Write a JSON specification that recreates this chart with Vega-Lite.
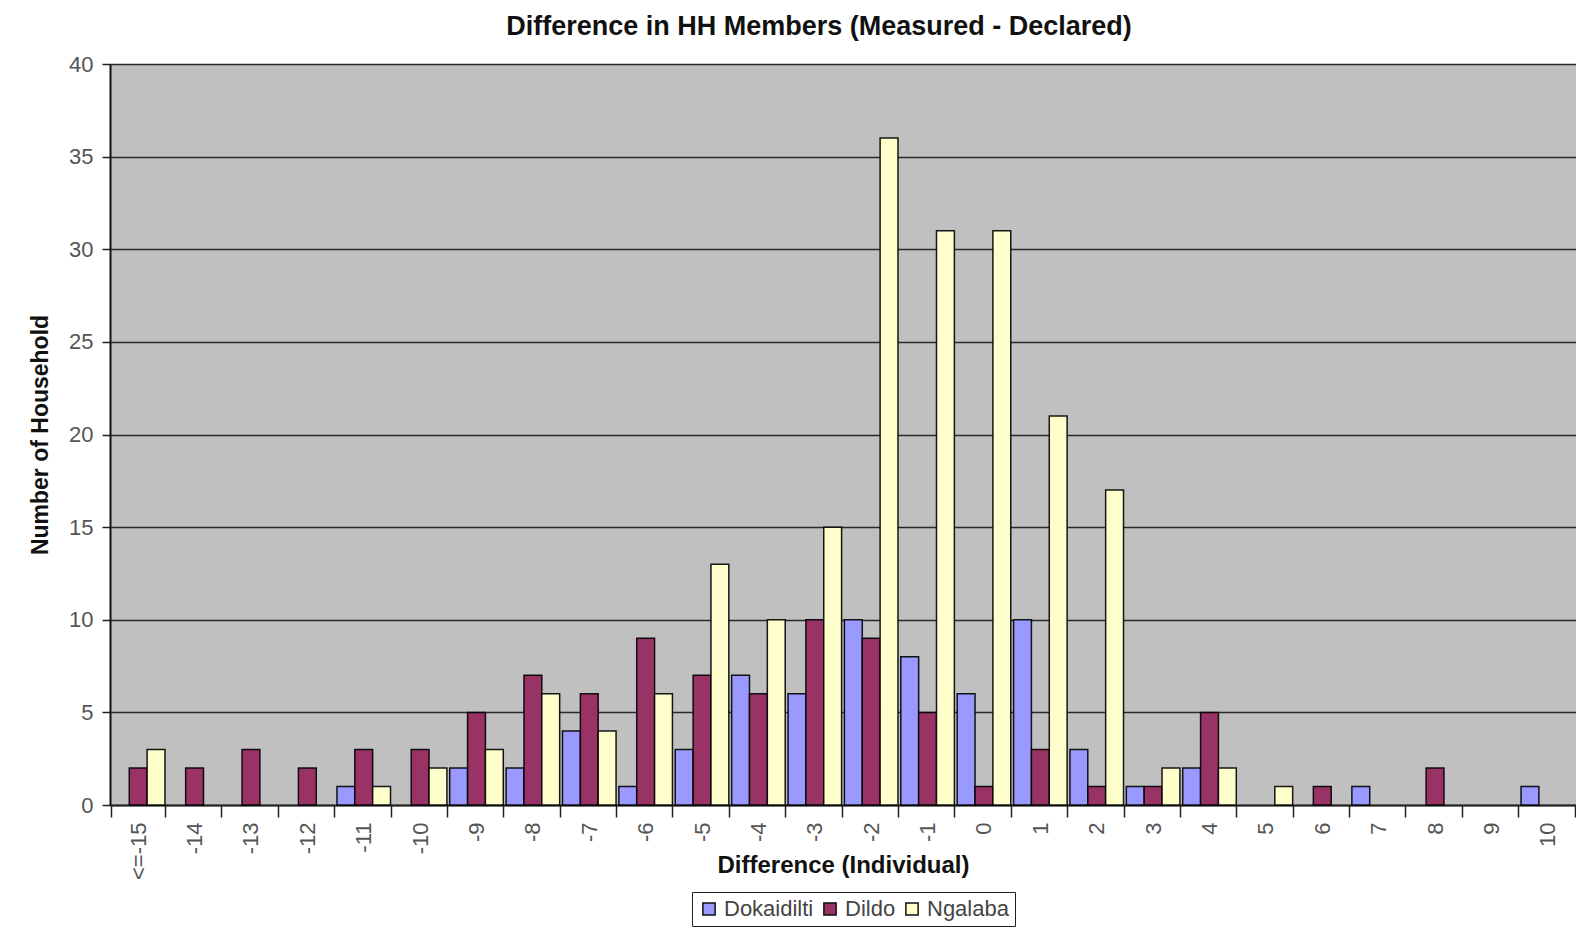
{
  "$schema": "https://vega.github.io/schema/vega-lite/v6.json",
  "autosize": {"type": "none"},
  "padding": {"left": 110, "top": 64, "right": 0, "bottom": 123},
  "width": 1466,
  "height": 741,
  "background": "white",
  "title": {
    "text": "Difference in HH Members (Measured - Declared)",
    "font": "Liberation Sans",
    "fontSize": 27,
    "fontWeight": "bold",
    "color": "#111",
    "anchor": "middle",
    "dx": -24,
    "offset": 12
  },
  "config": {
    "font": "Liberation Sans",
    "view": {"fill": "#C0C0C0", "stroke": "#999", "strokeWidth": 1}
  },
  "data": {
    "values": [
      {"diff": "<=-15", "area": "Dildo", "n": 2},
      {"diff": "<=-15", "area": "Ngalaba", "n": 3},
      {"diff": "-14", "area": "Dildo", "n": 2},
      {"diff": "-13", "area": "Dildo", "n": 3},
      {"diff": "-12", "area": "Dildo", "n": 2},
      {"diff": "-11", "area": "Dokaidilti", "n": 1},
      {"diff": "-11", "area": "Dildo", "n": 3},
      {"diff": "-11", "area": "Ngalaba", "n": 1},
      {"diff": "-10", "area": "Dildo", "n": 3},
      {"diff": "-10", "area": "Ngalaba", "n": 2},
      {"diff": "-9", "area": "Dokaidilti", "n": 2},
      {"diff": "-9", "area": "Dildo", "n": 5},
      {"diff": "-9", "area": "Ngalaba", "n": 3},
      {"diff": "-8", "area": "Dokaidilti", "n": 2},
      {"diff": "-8", "area": "Dildo", "n": 7},
      {"diff": "-8", "area": "Ngalaba", "n": 6},
      {"diff": "-7", "area": "Dokaidilti", "n": 4},
      {"diff": "-7", "area": "Dildo", "n": 6},
      {"diff": "-7", "area": "Ngalaba", "n": 4},
      {"diff": "-6", "area": "Dokaidilti", "n": 1},
      {"diff": "-6", "area": "Dildo", "n": 9},
      {"diff": "-6", "area": "Ngalaba", "n": 6},
      {"diff": "-5", "area": "Dokaidilti", "n": 3},
      {"diff": "-5", "area": "Dildo", "n": 7},
      {"diff": "-5", "area": "Ngalaba", "n": 13},
      {"diff": "-4", "area": "Dokaidilti", "n": 7},
      {"diff": "-4", "area": "Dildo", "n": 6},
      {"diff": "-4", "area": "Ngalaba", "n": 10},
      {"diff": "-3", "area": "Dokaidilti", "n": 6},
      {"diff": "-3", "area": "Dildo", "n": 10},
      {"diff": "-3", "area": "Ngalaba", "n": 15},
      {"diff": "-2", "area": "Dokaidilti", "n": 10},
      {"diff": "-2", "area": "Dildo", "n": 9},
      {"diff": "-2", "area": "Ngalaba", "n": 36},
      {"diff": "-1", "area": "Dokaidilti", "n": 8},
      {"diff": "-1", "area": "Dildo", "n": 5},
      {"diff": "-1", "area": "Ngalaba", "n": 31},
      {"diff": "0", "area": "Dokaidilti", "n": 6},
      {"diff": "0", "area": "Dildo", "n": 1},
      {"diff": "0", "area": "Ngalaba", "n": 31},
      {"diff": "1", "area": "Dokaidilti", "n": 10},
      {"diff": "1", "area": "Dildo", "n": 3},
      {"diff": "1", "area": "Ngalaba", "n": 21},
      {"diff": "2", "area": "Dokaidilti", "n": 3},
      {"diff": "2", "area": "Dildo", "n": 1},
      {"diff": "2", "area": "Ngalaba", "n": 17},
      {"diff": "3", "area": "Dokaidilti", "n": 1},
      {"diff": "3", "area": "Dildo", "n": 1},
      {"diff": "3", "area": "Ngalaba", "n": 2},
      {"diff": "4", "area": "Dokaidilti", "n": 2},
      {"diff": "4", "area": "Dildo", "n": 5},
      {"diff": "4", "area": "Ngalaba", "n": 2},
      {"diff": "5", "area": "Ngalaba", "n": 1},
      {"diff": "6", "area": "Dildo", "n": 1},
      {"diff": "7", "area": "Dokaidilti", "n": 1},
      {"diff": "8", "area": "Dildo", "n": 2},
      {"diff": "10", "area": "Dokaidilti", "n": 1}
    ]
  },
  "mark": {"type": "bar", "stroke": "#000", "strokeWidth": 1.5, "strokeOpacity": 0.9},
  "encoding": {
    "x": {
      "field": "diff",
      "type": "nominal",
      "sort": null,
      "scale": {
        "domain": ["<=-15","-14","-13","-12","-11","-10","-9","-8","-7","-6","-5","-4","-3","-2","-1","0","1","2","3","4","5","6","7","8","9","10"],
        "paddingInner": 0.05,
        "paddingOuter": 0.025
      },
      "axis": {
        "title": "Difference (Individual)",
        "titleFont": "Liberation Sans",
        "titleFontSize": 24,
        "titleFontWeight": "bold",
        "titleColor": "#111",
        "titleY": 60,
        "titleBaseline": "middle",
        "labelAngle": 270,
        "labelAlign": "right",
        "labelBaseline": "middle",
        "labelFontSize": 22,
        "labelColor": "#555",
        "labelPadding": 5,
        "tickBand": "extent",
        "tickSize": 12,
        "tickColor": "#222",
        "tickWidth": 1.5,
        "domainColor": "#222",
        "domainWidth": 2,
        "grid": false
      }
    },
    "xOffset": {
      "field": "area",
      "type": "nominal",
      "scale": {"domain": ["Dokaidilti", "Dildo", "Ngalaba"], "paddingInner": 0, "paddingOuter": 0}
    },
    "y": {
      "field": "n",
      "type": "quantitative",
      "scale": {"domain": [0, 40], "nice": false},
      "axis": {
        "title": "Number of Household",
        "titleFont": "Liberation Sans",
        "titleFontSize": 23,
        "titleFontWeight": "bold",
        "titleColor": "#111",
        "titlePadding": 16,
        "values": [0, 5, 10, 15, 20, 25, 30, 35, 40],
        "labelFontSize": 22,
        "labelColor": "#555",
        "labelPadding": 9,
        "tickSize": 8,
        "tickColor": "#222",
        "tickWidth": 1.5,
        "domainColor": "#111",
        "domainWidth": 2,
        "grid": true,
        "gridColor": "#2a2a2a",
        "gridWidth": 1.5
      }
    },
    "color": {
      "field": "area",
      "type": "nominal",
      "scale": {"domain": ["Dokaidilti", "Dildo", "Ngalaba"], "range": ["#9999FF", "#993366", "#FFFFCC"]},
      "legend": {
        "title": null,
        "orient": "none",
        "direction": "horizontal",
        "legendX": 582,
        "legendY": 828,
        "strokeColor": "#222",
        "padding": 6,
        "symbolType": "square",
        "symbolSize": 150,
        "symbolStrokeColor": "#111",
        "symbolStrokeWidth": 1.5,
        "symbolOpacity": 1,
        "labelFontSize": 22,
        "labelColor": "#444",
        "labelOffset": 4,
        "columnPadding": 5
      }
    }
  }
}
